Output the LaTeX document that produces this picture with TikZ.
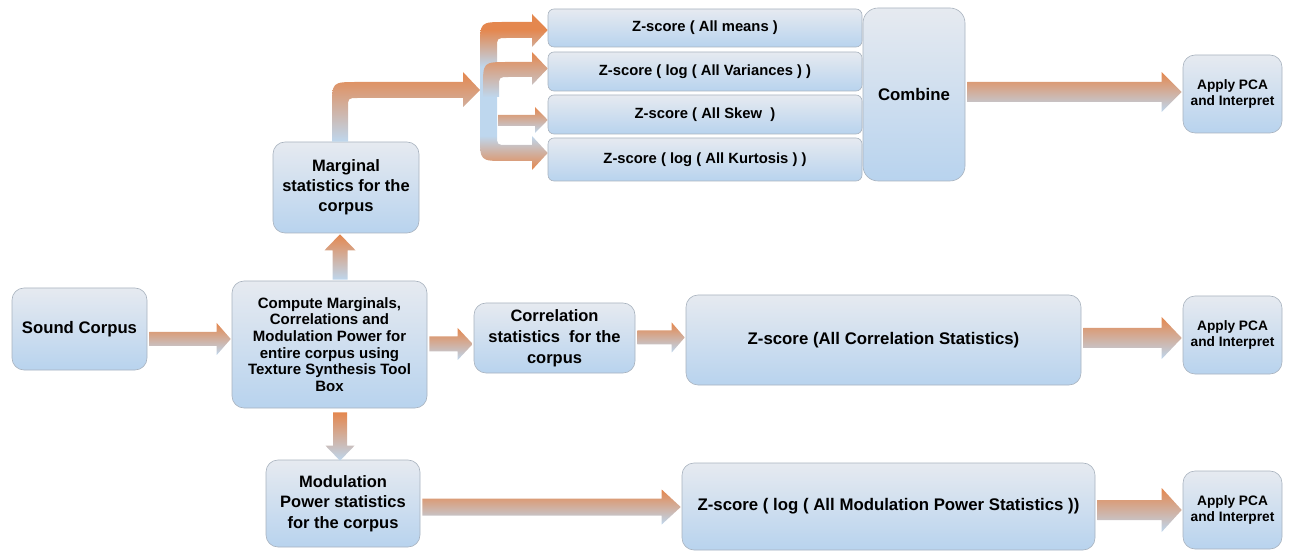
\documentclass[tikz,border=0pt]{standalone}
\usepackage{fontspec}
\setmainfont{Liberation Sans}
\usetikzlibrary{calc}
\definecolor{arrOr}{RGB}{228,135,78}
\definecolor{arrBl}{RGB}{190,215,238}
\definecolor{boxtop}{RGB}{230,234,240}
\definecolor{boxbot}{RGB}{184,211,238}
\definecolor{boxline}{RGB}{168,178,190}
\pgfdeclareverticalshading{forkshading}{100bp}{color(0bp)=(arrOr); color(25bp)=(arrOr);
  color(36bp)=(arrBl); color(58bp)=(arrBl); color(70bp)=(arrOr); color(100bp)=(arrOr)}
\tikzset{
  box/.style={rectangle, rounded corners=12pt, draw=boxline, line width=0.6pt,
    top color=boxtop, bottom color=boxbot, align=center, inner sep=2pt, text=black},
  zbox/.style={box, rounded corners=6pt, minimum width=314pt,
    font=\fontsize{14.8}{17}\selectfont\bfseries},
  pcabox/.style={box, minimum width=99pt, minimum height=78pt,
    font=\fontsize{13.7}{16.7}\selectfont\bfseries},
  arrowshade/.style={top color=arrOr, bottom color=arrBl},
  forkshade/.style={shade, shading=forkshading},
}
% horizontal block arrow: from node, to node, y centre, shaft half, head half, head length
\newcommand\harrow[6]{%
  \path[arrowshade] let \p1=(#1.east), \p2=(#2.west) in
   (\x1+2pt,#3pt+#4pt) -- (\x2-#6pt-1pt,#3pt+#4pt) -- (\x2-#6pt-1pt,#3pt+#5pt)
   -- (\x2-1pt,#3pt) -- (\x2-#6pt-1pt,#3pt-#5pt) -- (\x2-#6pt-1pt,#3pt-#4pt)
   -- (\x1+2pt,#3pt-#4pt) -- cycle;}
\begin{document}
\begin{tikzpicture}[x=1pt,y=1pt]
\useasboundingbox (0,0) rectangle (1290,552);

% boxes
\node[box, minimum width=135pt, minimum height=82pt,
  font=\fontsize{16.7}{20}\selectfont\bfseries] (sound) at (79.5,223) {Sound Corpus};
\node[box, minimum width=195pt, minimum height=127pt,
  font=\fontsize{15}{16.7}\selectfont\bfseries] (compute) at (329.5,207.5)
  {Compute Marginals,\\ Correlations and\\ Modulation Power for\\ entire corpus using\\ Texture Synthesis Tool\\ Box};
\node[box, minimum width=146pt, minimum height=91pt,
  font=\fontsize{16.5}{20}\selectfont\bfseries] (marg) at (346,364.5)
  {Marginal\\ statistics for the\\ corpus};
\node[box, minimum width=154pt, minimum height=87pt,
  font=\fontsize{16.5}{20.5}\selectfont\bfseries] (modu) at (343,48.5)
  {Modulation\\ Power statistics\\ for the corpus};
\node[box, minimum width=161pt, minimum height=70pt,
  font=\fontsize{16.5}{21}\selectfont\bfseries] (corr) at (554.5,214)
  {Correlation\\ statistics\ \ for the\\ corpus};
\node[box, minimum width=395pt, minimum height=90pt,
  font=\fontsize{16.8}{20}\selectfont\bfseries] (zcorr) at (883.5,212)
  {Z-score (All Correlation Statistics)};
\node[box, minimum width=413pt, minimum height=87pt,
  font=\fontsize{16.8}{20}\selectfont\bfseries] (zmod) at (888.5,45.5)
  {Z-score ( log ( All Modulation Power Statistics ))};
\node[zbox, minimum height=38pt] (zmean) at (705,524) {Z-score ( All means )};
\node[zbox, minimum height=39pt] (zvar) at (705,480.5) {Z-score ( log ( All Variances ) )};
\node[zbox, minimum height=39pt] (zskew) at (705,437.5) {Z-score ( All Skew\ \ )};
\node[zbox, minimum height=43pt] (zkurt) at (705,392.5) {Z-score ( log ( All Kurtosis ) )};
\node[box, rounded corners=15pt, minimum width=102pt, minimum height=173pt,
  font=\fontsize{16.8}{20}\selectfont\bfseries] (combine) at (914,457.5) {Combine};
\node[pcabox] (pca1) at (1232.5,458) {Apply PCA\\ and Interpret};
\node[pcabox] (pca2) at (1232.5,217) {Apply PCA\\ and Interpret};
\node[pcabox] (pca3) at (1232.5,42) {Apply PCA\\ and Interpret};

% straight horizontal block arrows
\harrow{sound}{compute}{213}{7}{16}{14}
\harrow{compute}{corr}{208}{7.5}{16}{15}
\harrow{corr}{zcorr}{214.5}{7}{15}{13}
\harrow{zcorr}{pca2}{214}{10}{21}{20}
\harrow{zmod}{pca3}{42}{10}{22}{20}
\harrow{combine}{pca1}{460}{10}{20}{20}
\harrow{modu}{zmod}{45}{8.5}{17.5}{19}

% vertical block arrows
\path[arrowshade] let \p1=(compute.north), \p2=(marg.south) in
  (332.5,\y1+1pt) -- (332.5,\y2-17pt) -- (324.5,\y2-17pt) -- (340,\y2-1pt)
  -- (355.5,\y2-17pt) -- (347.5,\y2-17pt) -- (347.5,\y1+1pt) -- cycle;
\path[arrowshade] let \p1=(compute.south), \p2=(modu.north) in
  (333,\y1-4pt) -- (333,\y2+14pt) -- (325.5,\y2+14pt) -- (340,\y2-1pt)
  -- (354.5,\y2+14pt) -- (347,\y2+14pt) -- (347,\y1-4pt) -- cycle;

% bent arrow from the marginal statistics
\coordinate (forkin) at (480,462);
\path[arrowshade] let \p1=(marg.north) in
  (332,\y1) -- (332,445) .. controls (332,470) .. (357,470) -- (463,470)
  -- (463,480) -- (forkin) -- (463,445) -- (463,454) -- (358,454)
  .. controls (348,454) .. (348,444) -- (348,\y1) -- cycle;

% fork to the four z-scores
\path[forkshade]
  (532,530) -- (532,538) -- (zmean.west |- 0,522) -- (532,505) -- (532,514)
  -- (507,514) .. controls (497,514) .. (497,504) -- (497,417)
  .. controls (497,407) .. (507,407) -- (532,407) -- (532,416)
  -- (zkurt.west |- 0,399) -- (532,382) -- (532,391) -- (505,391)
  .. controls (480,391) .. (480,416) -- (480,505)
  .. controls (480,530) .. (505,530) -- cycle;
\path[arrowshade]
  (483,455) -- (483,465) .. controls (483,490) .. (508,490) -- (532,490)
  -- (532,500) -- (zvar.west |- 0,483.5) -- (532,467) -- (532,475) -- (509,475)
  .. controls (499,475) .. (499,465) -- (499,455) -- cycle;
\path[arrowshade]
  (498,437) -- (535,437) -- (535,445) -- (zskew.west |- 0,432) -- (535,419)
  -- (535,426) -- (498,426) -- cycle;
\end{tikzpicture}
\end{document}
